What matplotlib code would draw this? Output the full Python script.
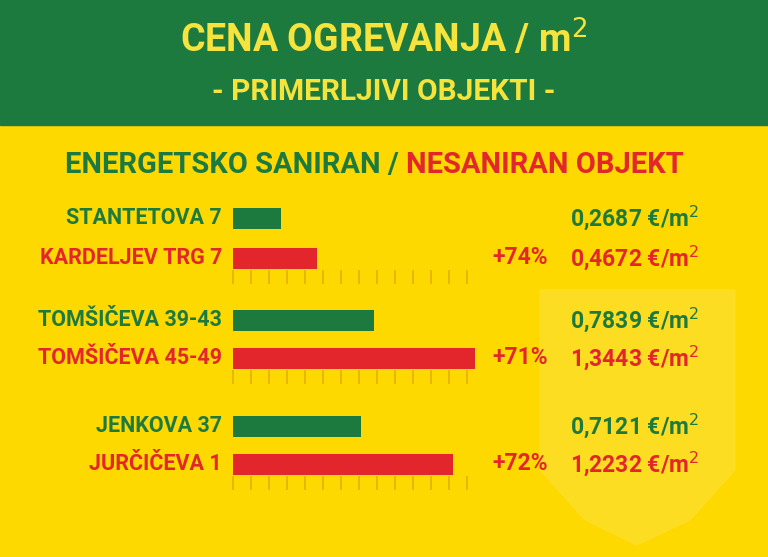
import matplotlib
matplotlib.use('Agg')
import matplotlib.pyplot as plt
from matplotlib.patches import Rectangle, Polygon

plt.rcParams['font.family'] = ['Liberation Sans Narrow', 'Roboto', 'DejaVu Sans']

names = ['STANTETOVA 7', 'KARDELJEV TRG 7', 'TOMŠIČEVA 39-43', 'TOMŠIČEVA 45-49',
         'JENKOVA 37', 'JURČIČEVA 1']
prices = [0.2687, 0.4672, 0.7839, 1.3443, 0.7121, 1.2232]
kinds = ['san', 'nes', 'san', 'nes', 'san', 'nes']
increase = ['+74%', '+71%', '+72%']
tick_values = [i * 0.1 for i in range(14)]

GREEN = '#1d7a3f'
RED = '#e3262b'
YELLOW = '#fdd900'
TICK = '#e8b400'

row_y = [218, 258, 320, 358, 426, 464]
x0, scale = 233, 180.0

fig = plt.figure(figsize=(7.68, 5.57), dpi=100)
fig.patch.set_facecolor(YELLOW)
ov = fig.add_axes([0, 0, 1, 1])
ov.set_xlim(0, 768)
ov.set_ylim(557, 0)
ov.axis('off')

ov.add_patch(Rectangle((0, 0), 768, 125, color=GREEN, zorder=0))
ov.add_patch(Polygon([(540, 290), (735, 290), (735, 470), (690, 520), (637, 545),
                      (585, 520), (540, 470)], closed=True, color='#fddd22', zorder=0))

ov.text(384, 40, 'CENA OGREVANJA / m$^2$', color='#f6e33c', fontsize=27,
        fontweight='bold', ha='center', va='center')
ov.text(384, 92, '- PRIMERLJIVI OBJEKTI -', color='#f6e33c', fontsize=21.5,
        fontweight='bold', ha='center', va='center')
ov.text(406, 165, 'ENERGETSKO SANIRAN / ', color=GREEN, fontsize=21, fontweight='bold',
        ha='right', va='center')
ov.text(406, 165, 'NESANIRAN OBJEKT', color=RED, fontsize=21, fontweight='bold',
        ha='left', va='center')

# bars drawn in data units through a scaled axes
ax = fig.add_axes([0, 0, 1, 1])
ax.set_xlim(-x0 / scale, (768 - x0) / scale)
ax.set_ylim(557, 0)
ax.axis('off')
colors = [GREEN if k == 'san' else RED for k in kinds]
ax.barh(row_y, prices, height=21, color=colors, left=0)

for i, (n, p, k) in enumerate(zip(names, prices, kinds)):
    c = GREEN if k == 'san' else RED
    ov.text(222, row_y[i], n, color=c, fontsize=15.5, fontweight='bold', ha='right', va='center')
    ov.text(635, row_y[i], f'{p:.4f}'.replace('.', ',') + ' €/m$^2$', color=c,
            fontsize=16.5, fontweight='bold', ha='center', va='center')
    if k == 'nes':
        ov.text(548, row_y[i], increase[i // 2], color=RED, fontsize=16.5,
                fontweight='bold', ha='right', va='center')
        for t in tick_values:
            ax.plot([t, t], [row_y[i] + 13, row_y[i] + 25], color=TICK, lw=1.3)

fig.savefig('out.png', dpi=100, facecolor=YELLOW)
